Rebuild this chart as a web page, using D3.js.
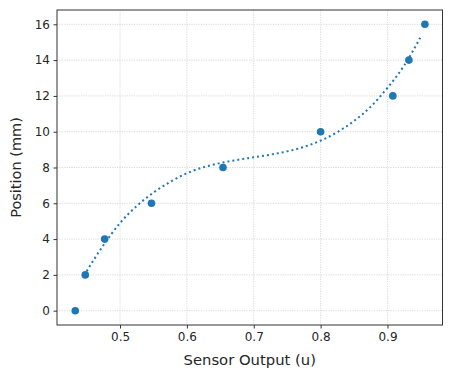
<!DOCTYPE html>
<html>
<head>
<meta charset="utf-8">
<script src="https://cdn.jsdelivr.net/npm/d3@7"></script>
<style>
  body { margin: 0; background: #fff; }
  svg text { font-family: "DejaVu Sans", sans-serif; fill: #262626; }
</style>
</head>
<body>
<script>
// measured points
const sensorOut = [0.433, 0.448, 0.477, 0.547, 0.654, 0.800, 0.908, 0.932, 0.956];
const position = [0, 2, 4, 6, 8, 10, 12, 14, 16];

// fitted curve
const fitX = [0.450, 0.475, 0.500, 0.525, 0.550, 0.575, 0.600, 0.625, 0.650, 0.675, 0.700,
  0.725, 0.750, 0.775, 0.800, 0.825, 0.850, 0.875, 0.900, 0.925, 0.949];
const fitY = [2.2, 3.65, 4.9, 5.85, 6.6, 7.2, 7.68, 8.02, 8.25, 8.42, 8.57,
  8.72, 8.9, 9.15, 9.5, 9.98, 10.6, 11.4, 12.45, 13.7, 15.25];

const xTicks = [0.5, 0.6, 0.7, 0.8, 0.9];
const yTicks = [0, 2, 4, 6, 8, 10, 12, 14, 16];

const w = 450, h = 377;
const margin = { left: 57, top: 10, right: 7.5, bottom: 52 };
const iw = w - margin.left - margin.right,
  ih = h - margin.top - margin.bottom;

const svg = d3.select('body').append('svg').attr('width', w).attr('height', h);
const g = svg.append('g').attr('transform', `translate(${margin.left},${margin.top})`);

const x = d3.scaleLinear().domain([0.4057, 0.9823]).range([0, iw]);
const y = d3.scaleLinear().domain([-0.8, 16.8]).range([ih, 0]);

// grid
g.append('g').selectAll('line').data(xTicks).enter().append('line')
  .attr('x1', d => x(d)).attr('x2', d => x(d))
  .attr('y1', 0).attr('y2', ih)
  .attr('stroke', '#cfcfcf').attr('stroke-width', 0.8).attr('stroke-dasharray', '1.2,1.2');
g.append('g').selectAll('line').data(yTicks).enter().append('line')
  .attr('y1', d => y(d)).attr('y2', d => y(d))
  .attr('x1', 0).attr('x2', iw)
  .attr('stroke', '#cfcfcf').attr('stroke-width', 0.8).attr('stroke-dasharray', '1.2,1.2');

// fit line
const pts = fitX.map((v, i) => [v, fitY[i]]);
g.append('path')
  .datum(pts)
  .attr('fill', 'none')
  .attr('stroke', '#1f77b4')
  .attr('stroke-width', 2)
  .attr('stroke-dasharray', '2,3')
  .attr('d', d3.line().x(d => x(d[0])).y(d => y(d[1])).curve(d3.curveMonotoneX));

// points
g.selectAll('circle').data(sensorOut).enter().append('circle')
  .attr('cx', d => x(d))
  .attr('cy', (d, i) => y(position[i]))
  .attr('r', 3.8)
  .attr('fill', '#1f77b4');

// axes
const xAxis = d3.axisBottom(x).tickValues(xTicks).tickSize(3.5).tickPadding(3.5).tickFormat(d3.format('.1f'));
const yAxis = d3.axisLeft(y).tickValues(yTicks).tickSize(3.5).tickPadding(3.5);

const gx = g.append('g').attr('transform', `translate(0,${ih})`).call(xAxis);
const gy = g.append('g').call(yAxis);
[gx, gy].forEach(a => {
  a.select('.domain').remove();
  a.selectAll('.tick line').attr('stroke', '#333');
  a.selectAll('.tick text').style('font-size', '12px').attr('fill', '#262626');
});

// frame
g.append('rect')
  .attr('width', iw).attr('height', ih)
  .attr('fill', 'none').attr('stroke', '#333').attr('stroke-width', 1);

// labels
svg.append('text')
  .attr('x', margin.left + iw / 2).attr('y', 365)
  .attr('text-anchor', 'middle')
  .style('font-size', '14.8px')
  .text('Sensor Output (u)');

svg.append('text')
  .attr('transform', `translate(20.5,${margin.top + ih / 2}) rotate(-90)`)
  .attr('text-anchor', 'middle')
  .style('font-size', '14.5px')
  .text('Position (mm)');
</script>
</body>
</html>
